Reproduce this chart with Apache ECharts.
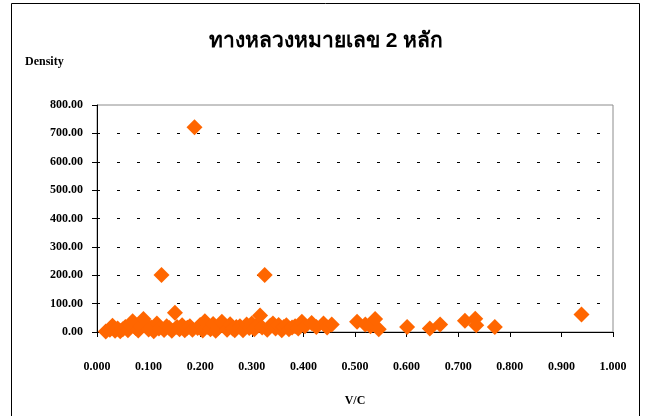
<!DOCTYPE html>
<html>
<head>
<meta charset="utf-8">
<script src="https://cdn.jsdelivr.net/npm/echarts@6/dist/echarts.min.js"></script>
<style>
  html, body { margin: 0; padding: 0; background: #fff; }
  #chart { width: 652px; height: 416px; }
</style>
</head>
<body>
<div id="chart"></div>
<script>
// V/C ratio of each road section
const vcRatio = [
  0.017, 0.025, 0.030, 0.035, 0.040, 0.045, 0.050, 0.055, 0.060, 0.065,
  0.069, 0.075, 0.080, 0.085, 0.090, 0.095, 0.100, 0.105, 0.110, 0.116,
  0.120, 0.125, 0.130, 0.135, 0.140, 0.145, 0.151, 0.155, 0.160, 0.165,
  0.170, 0.175, 0.180, 0.185, 0.189, 0.195, 0.200, 0.205, 0.209, 0.215,
  0.220, 0.225, 0.230, 0.235, 0.242, 0.248, 0.252, 0.258, 0.263, 0.267,
  0.270, 0.277, 0.283, 0.290, 0.295, 0.300, 0.305, 0.310, 0.316, 0.320,
  0.325, 0.330, 0.336, 0.341, 0.346, 0.352, 0.358, 0.362, 0.367, 0.372,
  0.378, 0.384, 0.390, 0.397, 0.403, 0.416, 0.425, 0.439, 0.446, 0.455,
  0.504, 0.520, 0.530, 0.539, 0.546,
  0.601, 0.645, 0.665, 0.713, 0.733, 0.735, 0.771, 0.939
];
// Traffic density of each road section
const density = [
  2, 8, 22, 4, 12, 3, 10, 18, 6, 25,
  38, 14, 5, 20, 46, 28, 9, 16, 3, 30,
  12, 201, 7, 20, 14, 4, 68, 18, 10, 24,
  6, 15, 20, 8, 722, 14, 25, 5, 38, 18,
  10, 28, 4, 15, 36, 22, 8, 27, 12, 6,
  18, 20, 6, 26, 14, 30, 10, 24, 58, 16,
  201, 8, 22, 30, 12, 25, 6, 18, 24, 10,
  16, 20, 12, 36, 20, 32, 18, 30, 16, 26,
  36, 26, 20, 46, 10,
  18, 12, 26, 40, 47, 24, 18, 62
];

const xTicks = [0, 0.1, 0.2, 0.3, 0.4, 0.5, 0.6, 0.7, 0.8, 0.9, 1.0];
const yTicks = [0, 100, 200, 300, 400, 500, 600, 700, 800];

const chartTitle = 'ทางหลวงหมายเลข 2 หลัก';
const xName = 'V/C';
const yName = 'Density';

const points = vcRatio.map((v, i) => [v, density[i]]);

const serif = '"Liberation Serif", "Times New Roman", serif';
const labelStyle = { fontFamily: serif, fontWeight: 'bold', fontSize: 12, color: '#000' };

const chart = echarts.init(document.getElementById('chart'), null, { renderer: 'canvas' });
chart.setOption({
  backgroundColor: '#fff',
  animation: false,
  title: {
    text: chartTitle,
    left: 'center',
    top: 26,
    textStyle: { fontFamily: 'sans-serif', fontWeight: 'bold', fontSize: 21, color: '#000' }
  },
  graphic: [
    {
      type: 'rect',
      shape: { x: 11.5, y: 3.5, width: 628, height: 420 },
      style: { fill: 'none', stroke: '#000', lineWidth: 1 },
      silent: true
    },
    {
      type: 'text',
      left: 25,
      top: 56,
      style: { text: yName, font: 'bold 12px ' + serif, fill: '#000' }
    }
  ],
  grid: {
    left: 97, top: 105, right: 39, bottom: 84,
    show: true, borderColor: '#8c8c8c', borderWidth: 1, backgroundColor: 'transparent'
  },
  xAxis: {
    type: 'value',
    min: xTicks[0], max: xTicks[xTicks.length - 1], interval: 0.1,
    name: xName, nameLocation: 'middle', nameGap: 63,
    nameTextStyle: labelStyle,
    axisLine: { show: true, lineStyle: { color: '#000', width: 1 } },
    axisTick: { show: true, inside: false, length: 5, lineStyle: { color: '#000' } },
    axisLabel: { ...labelStyle, margin: 29, formatter: v => v.toFixed(3) },
    splitLine: { show: false }
  },
  yAxis: {
    type: 'value',
    min: yTicks[0], max: yTicks[yTicks.length - 1], interval: 100,
    axisLine: { show: true, lineStyle: { color: '#000', width: 1 } },
    axisTick: { show: true, inside: false, length: 5, lineStyle: { color: '#000' } },
    axisLabel: { ...labelStyle, margin: 14, formatter: v => v.toFixed(2) },
    splitLine: {
      show: true, showMinLine: false, showMaxLine: false,
      lineStyle: { color: '#000', width: 1, type: [3, 17] }
    }
  },
  series: [{
    type: 'scatter',
    data: points,
    symbol: 'diamond',
    symbolSize: 16,
    clip: false,
    itemStyle: { color: '#FF6600', opacity: 1 },
    z: 5
  }]
});
</script>
</body>
</html>
